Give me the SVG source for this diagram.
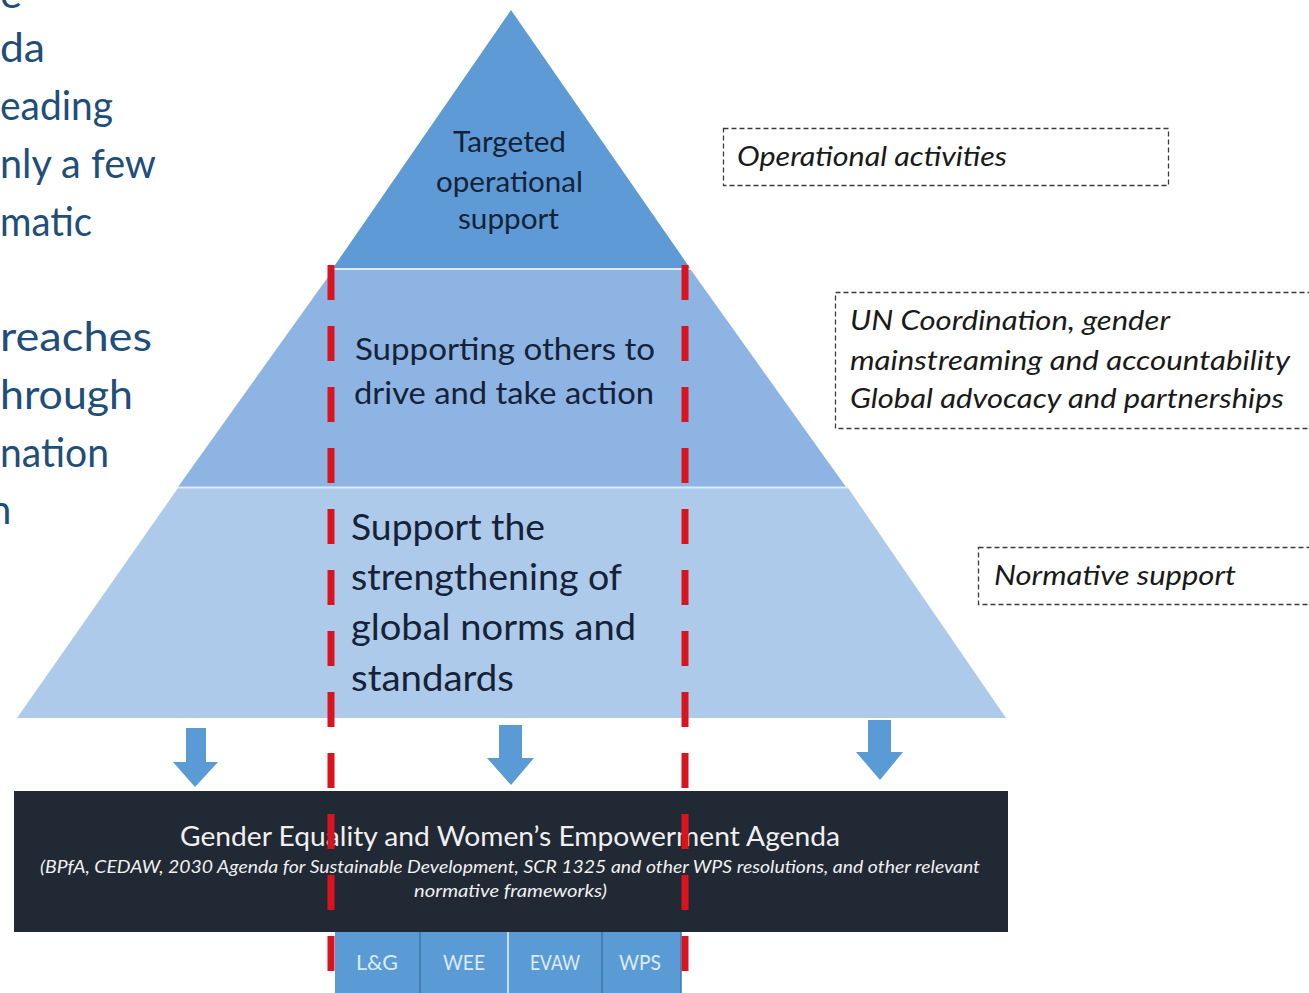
<svg xmlns="http://www.w3.org/2000/svg" width="1309" height="993" viewBox="0 0 1309 993">
  <style>
    .cal { font-family: Lato, "Open Sans", "Liberation Sans", sans-serif; }
    .left { font-size: 40px; fill: #1f4e79; }
    .tier { fill: #152238; text-anchor: start; }
    .side { font-size: 27px; font-style: italic; fill: #1a1a1a; }
    .dbox { fill: none; stroke: #3a3a3a; stroke-width: 1.3; stroke-dasharray: 5 3; }
    .arrow { fill: #5b9bd5; }
    .cell { fill: #5b9bd5; }
    .celltxt { font-size: 21px; fill: #dcebf8; text-anchor: middle; }
    .red { stroke: #d9141e; stroke-width: 7; stroke-dasharray: 35 26; fill: none; }
  </style>

  <rect width="1309" height="993" fill="#ffffff"/>

  <g id="left-text" class="cal left">
    <text x="0" y="8" textLength="22" lengthAdjust="spacingAndGlyphs">e</text>
    <text x="0" y="62" textLength="45" lengthAdjust="spacingAndGlyphs">da</text>
    <text x="0" y="120" textLength="113" lengthAdjust="spacingAndGlyphs">eading</text>
    <text x="0" y="178" textLength="156" lengthAdjust="spacingAndGlyphs">nly a few</text>
    <text x="0" y="236" textLength="92" lengthAdjust="spacingAndGlyphs">matic</text>
    <text x="0" y="351" textLength="152" lengthAdjust="spacingAndGlyphs">reaches</text>
    <text x="0" y="409" textLength="133" lengthAdjust="spacingAndGlyphs">hrough</text>
    <text x="0" y="467" textLength="109" lengthAdjust="spacingAndGlyphs">nation</text>
    <text x="-11" y="524">n</text>
  </g>

  <g id="tier-top">
    <polygon points="511,10 690,268 333,268" fill="#5e9bd6"/>
    <g class="cal tier" font-size="28">
      <text x="453" y="152" textLength="113" lengthAdjust="spacingAndGlyphs">Targeted</text>
      <text x="436" y="192" textLength="147" lengthAdjust="spacingAndGlyphs">operational</text>
      <text x="458" y="229" textLength="101" lengthAdjust="spacingAndGlyphs">support</text>
    </g>
  </g>

  <g id="tier-middle">
    <polygon points="333,270 691,270 846,487 178,487" fill="#8db4e2"/>
    <line x1="333" y1="269" x2="691" y2="269" stroke="#dcecf9" stroke-width="2"/>
    <g class="cal tier" font-size="31">
      <text x="355" y="360" textLength="300" lengthAdjust="spacingAndGlyphs">Supporting others to</text>
      <text x="354" y="404" textLength="300" lengthAdjust="spacingAndGlyphs">drive and take action</text>
    </g>
  </g>

  <g id="tier-bottom">
    <polygon points="178,488 848,488 1006,718 17,718" fill="#adcaea"/>
    <line x1="178" y1="487.5" x2="848" y2="487.5" stroke="#dcecf9" stroke-width="2"/>
    <g class="cal tier" font-size="36">
      <text x="351" y="540" textLength="194" lengthAdjust="spacingAndGlyphs">Support the</text>
      <text x="351" y="590" textLength="271" lengthAdjust="spacingAndGlyphs">strengthening of</text>
      <text x="351" y="640" textLength="285" lengthAdjust="spacingAndGlyphs">global norms and</text>
      <text x="351" y="691" textLength="163" lengthAdjust="spacingAndGlyphs">standards</text>
    </g>
  </g>

  <g id="box-operational">
    <rect class="dbox" x="723.5" y="128.5" width="445" height="57"/>
    <text class="cal side" x="737" y="166" textLength="270" lengthAdjust="spacingAndGlyphs">Operational activities</text>
  </g>

  <g id="box-coordination">
    <rect class="dbox" x="835.5" y="292.5" width="480" height="136"/>
    <text class="cal side" x="850" y="330" textLength="320" lengthAdjust="spacingAndGlyphs">UN Coordination, gender</text>
    <text class="cal side" x="850" y="370" textLength="440" lengthAdjust="spacingAndGlyphs">mainstreaming and accountability</text>
    <text class="cal side" x="850" y="408" textLength="434" lengthAdjust="spacingAndGlyphs">Global advocacy and partnerships</text>
  </g>

  <g id="box-normative">
    <rect class="dbox" x="978.5" y="547.5" width="340" height="57"/>
    <text class="cal side" x="994" y="585" textLength="242" lengthAdjust="spacingAndGlyphs">Normative support</text>
  </g>

  <g id="agenda">
    <rect x="14" y="791" width="994" height="141" fill="#212934"/>
    <text class="cal" x="180" y="846" font-size="27" fill="#f0f0f0" textLength="660" lengthAdjust="spacingAndGlyphs">Gender Equality and Women’s Empowerment Agenda</text>
    <text class="cal" x="40" y="873" font-size="18" font-style="italic" fill="#f0f0f0" textLength="940" lengthAdjust="spacingAndGlyphs">(BPfA, CEDAW, 2030 Agenda for Sustainable Development, SCR 1325 and other WPS resolutions, and other relevant</text>
    <text class="cal" x="414" y="897" font-size="18" font-style="italic" fill="#f0f0f0" textLength="193" lengthAdjust="spacingAndGlyphs">normative frameworks)</text>
  </g>

  <g id="thematic-areas">
    <rect class="cell" x="335" y="932" width="346" height="61"/>
    <line x1="420" y1="932" x2="420" y2="993" stroke="#3f74ab" stroke-width="1.5"/>
    <line x1="508" y1="932" x2="508" y2="993" stroke="#e8f2fb" stroke-width="1.5"/>
    <line x1="602" y1="932" x2="602" y2="993" stroke="#3f74ab" stroke-width="1.5"/>
    <line x1="681" y1="932" x2="681" y2="993" stroke="#3f74ab" stroke-width="1.5"/>
    <g class="cal celltxt">
      <text x="377" y="970" textLength="42" lengthAdjust="spacingAndGlyphs">L&amp;G</text>
      <text x="464" y="970" textLength="42" lengthAdjust="spacingAndGlyphs">WEE</text>
      <text x="555" y="970" textLength="50" lengthAdjust="spacingAndGlyphs">EVAW</text>
      <text x="640" y="970" textLength="42" lengthAdjust="spacingAndGlyphs">WPS</text>
    </g>
  </g>

  <g id="connectors">
    <polygon class="arrow" points="186,728 206,728 206,762 218,762 195,787 173,762 186,762"/>
    <polygon class="arrow" points="499,725 522,725 522,758 534,758 511,785 487,758 499,758"/>
    <polygon class="arrow" points="868,720 891,720 891,752 903,752 880,780 856,752 868,752"/>
    <line class="red" x1="331" y1="265" x2="331" y2="971"/>
    <line class="red" x1="685" y1="265" x2="685" y2="971"/>
  </g>
</svg>
